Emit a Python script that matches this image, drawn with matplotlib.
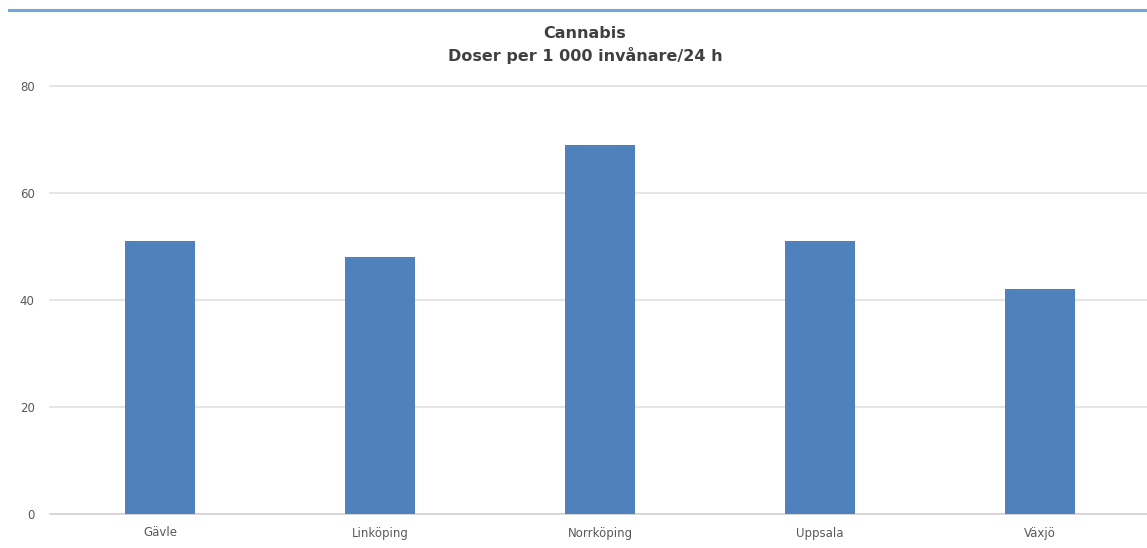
import matplotlib
matplotlib.use("Agg")
import matplotlib.pyplot as plt

cities = ["Gävle", "Linköping", "Norrköping", "Uppsala", "Växjö"]
doses = [51, 48, 69, 51, 42]
yticks = [0, 20, 40, 60, 80]

BAR = "#4f81bd"
TEXT = "#595959"
GRID = "#e3e3e3"

plt.rcParams["font.family"] = ["DejaVu Sans"]

W, H = 1147, 548
fig = plt.figure(figsize=(W/100, H/100), dpi=100)
ax = fig.add_axes([50/W, (H-514)/H, 1100/W, 428/H])

x = range(len(cities))
ax.bar(x, doses, width=0.315, color=BAR, zorder=3)
ax.set_xlim(-0.5, len(cities)-0.5)
ax.set_ylim(0, 80)
ax.set_yticks(yticks)
ax.set_xticks(list(x))
ax.set_xticklabels(cities)
ax.grid(axis="y", color=GRID, lw=1.3, zorder=0)
for line in ax.get_ygridlines():
    line.set_clip_on(False)
for side in ("top", "right", "left"):
    ax.spines[side].set_visible(False)
ax.spines["bottom"].set_color("#d6d6d6")
ax.spines["bottom"].set_linewidth(1.3)
ax.tick_params(axis="both", length=0, labelsize=8.5, labelcolor=TEXT)
ax.tick_params(axis="y", pad=11)
ax.tick_params(axis="x", pad=9)

fig.text(585/W, 1-33/H, "Cannabis", ha="center", va="center",
         fontsize=11.5, fontweight="bold", color="#404040")
fig.text(585/W, 1-55/H, "Doser per 1 000 invånare/24 h", ha="center",
         va="center", fontsize=11.5, fontweight="bold", color="#404040")
fig.add_artist(plt.Line2D([9/W, 1], [1-10/H, 1-10/H], color="#6fa8dc",
                          lw=2.2))

fig.savefig("out.png", dpi=100)
